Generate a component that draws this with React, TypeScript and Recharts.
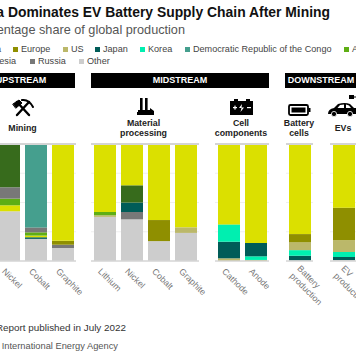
import { BarChart, Bar, XAxis, YAxis, CartesianGrid, ReferenceLine } from "recharts";

const FONT = '"Liberation Sans", Arial, sans-serif';

const REGION_COLORS: Record<string, string> = {
  China: "#dbe000",
  Europe: "#8f8f00",
  US: "#bbb86a",
  Japan: "#005c58",
  Korea: "#00efb0",
  DRC: "#459f8e",
  Australia: "#5eae14",
  Indonesia: "#376b1c",
  Russia: "#787878",
  Other: "#cdcdcd",
};

const legendRowOne = ["China", "Europe", "US", "Japan", "Korea", "Democratic Republic of the Congo", "Australia"];
const legendRowTwo = ["Indonesia", "Russia", "Other"];
const legendKeys = ["China", "Europe", "US", "Japan", "Korea", "DRC", "Australia"];

// mining
const miningCategories = ["Nickel", "Cobalt", "Graphite"];
const miningOther = [42.5, 18.9, 11.1];
const miningRussiaLow = [0, 0, 2.8];
const miningEurope = [0, 0, 3.4];
const miningJapan = [0, 1.4, 0];
const miningChina = [5.1, 1.4, 82.7];
const miningAustralia = [5.7, 2.8, 0];
const miningRussia = [9.7, 4.2, 0];
const miningDrc = [0, 71.3, 0];
const miningIndonesia = [37, 0, 0];

// material processing
const materialCategories = ["Lithium", "Nickel", "Cobalt", "Graphite"];
const materialOther = [37.7, 35.6, 17, 24];
const materialRussia = [0, 6.3, 0, 0];
const materialUs = [1.4, 0, 0, 4.8];
const materialJapan = [0, 8, 0, 0];
const materialIndonesia = [0, 14.8, 0, 0];
const materialEurope = [0, 0, 18, 0];
const materialAustralia = [2.8, 0, 0, 0];
const materialChina = [58.1, 35.3, 65, 71.2];

// cell components
const cellCategories = ["Cathode", "Anode"];
const cellUs = [2.3, 0.9];
const cellKoreaLow = [0, 3.1];
const cellJapan = [14.2, 11.4];
const cellKorea = [14.8, 0];
const cellChina = [68.7, 84.6];

// battery cells
const batteryCategories = ["Battery production"];
const batteryOther = [0.5];
const batteryJapan = [4];
const batteryKorea = [4.8];
const batteryUs = [6.6];
const batteryEurope = [7.1];
const batteryChina = [77];

// EVs
const evCategories = ["EV production"];
const evOther = [0.8];
const evJapan = [2.6];
const evKorea = [4.3];
const evUs = [10];
const evEurope = [27.9];
const evChina = [54.4];

type Series = [string, number[]];

const buildRows = (categories: string[], series: Series[]) =>
  categories.map((name, i) => {
    const row: Record<string, string | number> = { name };
    series.forEach(([region, values], s) => {
      row[`${region}_${s}`] = values[i];
    });
    return row;
  });

function SlantedTick({ x, y, payload }: any) {
  const words = String(payload.value).split(" ");
  const two = words.length > 1;
  return (
    <g transform={`translate(${x - 2},${y - 2})`}>
      <text transform="rotate(45)" fontFamily={FONT} fontSize={8.8} fill="#777" textAnchor="start">
        {words.map((w, i) => (
          <tspan key={w} x={two ? 1 : 0} y={two ? 2 + i * 10.5 : 7}>
            {w}
          </tspan>
        ))}
      </text>
    </g>
  );
}

const PITCH = 27;
const PLOT_TOP = 144;
const PLOT_HEIGHT = 117;

function StagePanel({ plotLeft, categories, series }: { plotLeft: number; categories: string[]; series: Series[] }) {
  const rows = buildRows(categories, series);
  const width = 6 + categories.length * PITCH + 50;
  return (
    <div style={{ position: "absolute", left: plotLeft - 6, top: PLOT_TOP - 8 }}>
      <BarChart
        width={width}
        height={8 + PLOT_HEIGHT + 56}
        data={rows}
        margin={{ top: 8, right: 50, bottom: 0, left: 6 }}
        barSize={22}
      >
        <CartesianGrid vertical={false} stroke="#efefef" horizontalValues={[25, 50, 75]} />
        <XAxis
          dataKey="name"
          interval={0}
          height={56}
          tickLine={false}
          axisLine={{ stroke: "#d4d4d4", strokeWidth: 1.5 }}
          tick={SlantedTick}
        />
        <YAxis hide domain={[0, 100]} ticks={[0, 25, 50, 75, 100]} />
        <ReferenceLine y={100} stroke="#d4d4d4" strokeWidth={2} />
        {series.map(([region], s) => (
          <Bar
            key={`${region}_${s}`}
            dataKey={`${region}_${s}`}
            stackId="share"
            fill={REGION_COLORS[region]}
            isAnimationActive={false}
          />
        ))}
      </BarChart>
    </div>
  );
}

const Label = ({ x, y, w, children, style }: any) => (
  <div
    style={{
      position: "absolute",
      left: x - w / 2,
      top: y,
      width: w,
      textAlign: "center",
      fontFamily: FONT,
      fontWeight: 700,
      fontSize: 8.8,
      lineHeight: "9.6px",
      color: "#222",
      ...style,
    }}
  >
    {children}
  </div>
);

const Header = ({ left, width, text, center }: any) => (
  <div style={{ position: "absolute", left, top: 73, width, height: 15, background: "#000" }}>
    <div
      style={{
        position: "absolute",
        left: center - left - 50,
        width: 100,
        top: 1,
        textAlign: "center",
        color: "#fff",
        fontFamily: FONT,
        fontWeight: 700,
        fontSize: 9,
        lineHeight: "12px",
      }}
    >
      {text}
    </div>
  </div>
);

const legendTextX: Record<string, number> = {
  Europe: 21,
  US: 71,
  Japan: 103,
  Korea: 148,
  "Democratic Republic of the Congo": 193,
  Australia: 352,
  Russia: 38,
  Other: 87,
};

const LegendItem = ({ name, colorKey, y }: any) => {
  const textStyle: any = {
    position: "absolute",
    top: y,
    fontFamily: FONT,
    fontSize: 9.1,
    lineHeight: "11px",
    color: "#444",
    whiteSpace: "nowrap",
  };
  if (legendTextX[name] === undefined) {
    // cut off by the left edge of the frame, anchored on where the word ends
    const end = name === "China" ? 355 : 340;
    return <div style={{ ...textStyle, right: end }}>{name}</div>;
  }
  const x = legendTextX[name];
  return (
    <>
      <div
        style={{
          position: "absolute",
          left: x - 8,
          top: y + 3,
          width: 5,
          height: 5,
          background: REGION_COLORS[colorKey],
        }}
      />
      <div style={{ ...textStyle, left: x }}>{name}</div>
    </>
  );
};

const Icons = () => (
  <svg width={356} height={125} style={{ position: "absolute", left: 0, top: 0 }}>
    {/* hammer and pick */}
    <g stroke="#000" strokeWidth={2.4} strokeLinecap="round" fill="none">
      <path d="M17 102 L29 115" />
      <path d="M29 102 L17 115" />
      <path d="M22 100 Q29 99 33 107" strokeWidth={2} />
      <path d="M13 104 L19 100 L22 103 L16 108 Z" fill="#000" strokeWidth={1} />
    </g>
    {/* factory */}
    <g fill="#000">
      <rect x={140} y={98} width={2.6} height={12} />
      <rect x={145} y={98} width={2.6} height={12} />
      <rect x={138} y={110} width={12} height={2} />
      <path d="M137 115 L137 112 L150 112 L150 108 L154 111 L154 115 Z" />
    </g>
    {/* cell */}
    <g fill="#000">
      <rect x={234} y={99} width={4} height={3} />
      <rect x={246} y={99} width={4} height={3} />
      <rect x={230} y={101} width={23} height={14} />
    </g>
    <g fill="#fff">
      <rect x={233} y={107} width={4} height={1.2} />
      <rect x={234.4} y={105.6} width={1.2} height={4} />
      <rect x={247} y={107} width={4} height={1.2} />
      <path d="M242 104 L239 108 L241.5 108 L240.5 112 L244 107.5 L241.5 107.5 Z" />
    </g>
    {/* battery */}
    <rect x={289} y={105} width={19} height={10} rx={1.5} fill="none" stroke="#000" strokeWidth={1.8} />
    <rect x={291.5} y={107.5} width={14} height={5} fill="#000" />
    <rect x={308.5} y={108} width={2} height={4} fill="#000" />
    {/* car */}
    <path
      d="M328 114 Q328 109 334 108 L338 104 Q345 102 350 104 L354 108 L356 108 L356 114 Z"
      fill="#000"
    />
    <circle cx={334} cy={114} r={2.6} fill="#000" stroke="#fff" strokeWidth={0.8} />
    <circle cx={350} cy={114} r={2.6} fill="#000" stroke="#fff" strokeWidth={0.8} />
    <path d="M340 105 L344 104.5 L344 108 L337.5 108 Z" fill="#fff" />
    <path d="M346 104.5 L349 105.5 L351 108 L346 108 Z" fill="#fff" />
    <rect x={349} y={95} width={5} height={4} fill="#000" />
    <rect x={354} y={96.5} width={2} height={1} fill="#000" />
  </svg>
);

export default function App() {
  return (
    <div
      style={{
        position: "absolute",
        left: 0,
        top: 0,
        width: 356,
        height: 364,
        overflow: "hidden",
        background: "#fff",
      }}
    >
      <div
        style={{
          position: "absolute",
          right: 26,
          top: 4,
          whiteSpace: "nowrap",
          fontFamily: FONT,
          fontWeight: 700,
          fontSize: 13.9,
          lineHeight: "17px",
          color: "#111",
        }}
      >
        China Dominates EV Battery Supply Chain After Mining
      </div>
      <div
        style={{
          position: "absolute",
          right: 171,
          top: 23,
          whiteSpace: "nowrap",
          fontFamily: FONT,
          fontSize: 12.7,
          lineHeight: "15px",
          color: "#555",
        }}
      >
        Percentage share of global production
      </div>

      {legendRowOne.map((name, i) => (
        <LegendItem key={name} name={name} colorKey={legendKeys[i]} y={44} />
      ))}
      {legendRowTwo.map((name) => (
        <LegendItem key={name} name={name} colorKey={name} y={56} />
      ))}

      <Header left={-40} width={114.5} text="UPSTREAM" center={21} />
      <Header left={91} width={178} text="MIDSTREAM" center={180} />
      <Header left={285} width={75} text="DOWNSTREAM" center={321} />

      <Icons />

      <Label x={22.5} y={124} w={60}>Mining</Label>
      <Label x={143.5} y={119} w={80}>Material<br />processing</Label>
      <Label x={241} y={119} w={70}>Cell<br />components</Label>
      <Label x={299} y={119} w={40}>Battery<br />cells</Label>
      <Label x={343} y={124} w={30}>EVs</Label>

      <StagePanel
        plotLeft={-5}
        categories={miningCategories}
        series={[
          ["Other", miningOther],
          ["Russia", miningRussiaLow],
          ["Europe", miningEurope],
          ["Japan", miningJapan],
          ["China", miningChina],
          ["Australia", miningAustralia],
          ["Russia", miningRussia],
          ["DRC", miningDrc],
          ["Indonesia", miningIndonesia],
        ]}
      />
      <StagePanel
        plotLeft={90.5}
        categories={materialCategories}
        series={[
          ["Other", materialOther],
          ["Russia", materialRussia],
          ["US", materialUs],
          ["Japan", materialJapan],
          ["Indonesia", materialIndonesia],
          ["Europe", materialEurope],
          ["Australia", materialAustralia],
          ["China", materialChina],
        ]}
      />
      <StagePanel
        plotLeft={214.5}
        categories={cellCategories}
        series={[
          ["US", cellUs],
          ["Korea", cellKoreaLow],
          ["Japan", cellJapan],
          ["Korea", cellKorea],
          ["China", cellChina],
        ]}
      />
      <StagePanel
        plotLeft={285.5}
        categories={batteryCategories}
        series={[
          ["Other", batteryOther],
          ["Japan", batteryJapan],
          ["Korea", batteryKorea],
          ["US", batteryUs],
          ["Europe", batteryEurope],
          ["China", batteryChina],
        ]}
      />
      <StagePanel
        plotLeft={329.5}
        categories={evCategories}
        series={[
          ["Other", evOther],
          ["Japan", evJapan],
          ["Korea", evKorea],
          ["US", evUs],
          ["Europe", evEurope],
          ["China", evChina],
        ]}
      />

      <div
        style={{
          position: "absolute",
          right: 230,
          top: 322,
          whiteSpace: "nowrap",
          fontFamily: FONT,
          fontSize: 9.9,
          lineHeight: "12px",
          color: "#333",
        }}
      >
        Note: Report published in July 2022
      </div>
      <div
        style={{
          position: "absolute",
          right: 238,
          top: 340,
          whiteSpace: "nowrap",
          fontFamily: FONT,
          fontSize: 9.3,
          lineHeight: "12px",
          color: "#555",
        }}
      >
        Source: International Energy Agency
      </div>
    </div>
  );
}
